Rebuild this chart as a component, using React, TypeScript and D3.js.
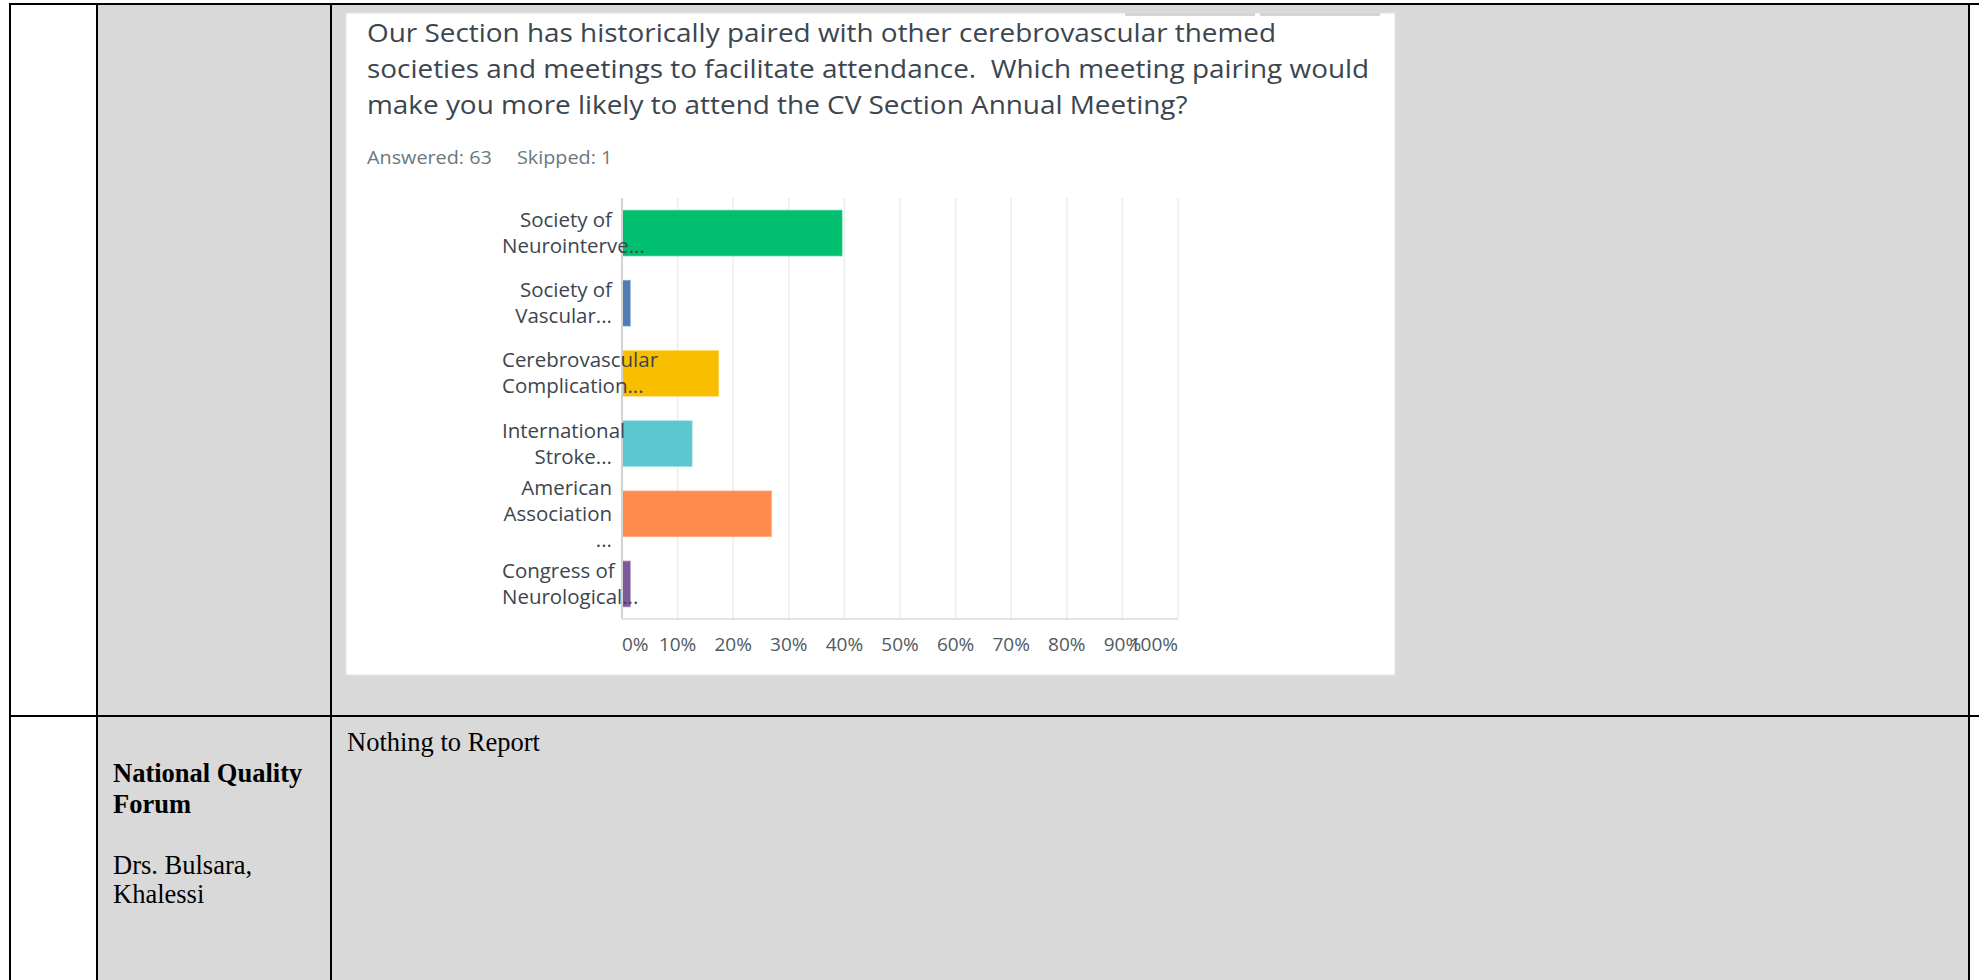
import React, { useEffect, useRef } from 'react';
import * as d3 from 'd3';

// survey answers, label text is already cut like in the survey export
const answerLines: string[][] = [
  ['Society of', 'Neurointerve...'],
  ['Society of', 'Vascular...'],
  ['Cerebrovascular', 'Complication...'],
  ['International', 'Stroke...'],
  ['American', 'Association', '...'],
  ['Congress of', 'Neurological...'],
];
const answerPct = [39.68, 1.59, 17.46, 12.7, 26.98, 1.59];
const barColors = ['#00bf6f', '#507cb6', '#f9be00', '#5bc8cf', '#ff8b4f', '#7d5a9a'];
const xTicks = [0, 10, 20, 30, 40, 50, 60, 70, 80, 90, 100];

const titleLines = [
  'Our Section has historically paired with other cerebrovascular themed',
  'societies and meetings to facilitate attendance.  Which meeting pairing would',
  'make you more likely to attend the CV Section Annual Meeting?',
];
const answeredLabel = 'Answered: 63';
const skippedLabel = 'Skipped: 1';

const sideHeading = ['National Quality', 'Forum'];
const sideNames = ['Drs. Bulsara,', 'Khalessi'];
const cellNote = 'Nothing to Report';

const W = 1979;
const H = 980;
const SANS = '"Open Sans", "Noto Sans", sans-serif';
const SERIF = '"Liberation Serif", "Times New Roman", serif';

// the pasted screenshot is a bit wider than tall, so its text gets stretched sideways
const stretch = (sel: d3.Selection<SVGTextElement, any, any, any>, ax: number, sx: number) =>
  sel.attr('transform', `translate(${ax * (1 - sx)},0) scale(${sx},1)`);

const App: React.FC = () => {
  const ref = useRef<SVGSVGElement>(null);

  useEffect(() => {
    const svg = d3.select(ref.current);
    svg.selectAll('*').remove();

    // ---- word table behind the screenshot ----
    svg.append('rect').attr('width', W).attr('height', H).attr('fill', '#fff');
    svg.append('rect')
      .attr('x', 97).attr('y', 4).attr('width', 1969 - 97).attr('height', H)
      .attr('fill', '#d9d9d9');

    const border = (x1: number, y1: number, x2: number, y2: number) =>
      svg.append('line')
        .attr('x1', x1).attr('y1', y1).attr('x2', x2).attr('y2', y2)
        .attr('stroke', '#000').attr('stroke-width', 2);
    border(9, 4, W, 4);
    border(9, 716, W, 716);
    border(10, 4, 10, H);
    border(97, 4, 97, H);
    border(331, 4, 331, H);
    border(1969, 4, 1969, H);

    svg.append('text')
      .attr('x', 113).attr('y', 782)
      .attr('font-family', SERIF).attr('font-size', 26.5).attr('font-weight', 'bold')
      .selectAll('tspan').data(sideHeading).join('tspan')
      .attr('x', 113).attr('dy', (_, i) => (i === 0 ? 0 : 31))
      .text(d => d);
    svg.append('text')
      .attr('x', 113).attr('y', 874)
      .attr('font-family', SERIF).attr('font-size', 26.5)
      .selectAll('tspan').data(sideNames).join('tspan')
      .attr('x', 113).attr('dy', (_, i) => (i === 0 ? 0 : 29))
      .text(d => d);
    svg.append('text')
      .attr('x', 347).attr('y', 751)
      .attr('font-family', SERIF).attr('font-size', 26.5)
      .text(cellNote);

    // ---- survey card ----
    svg.append('rect')
      .attr('x', 346).attr('y', 13).attr('width', 1395 - 346).attr('height', 675 - 13)
      .attr('fill', '#fff').attr('stroke', '#e4e4e4').attr('stroke-width', 1);
    svg.append('rect').attr('x', 1125).attr('y', 13).attr('width', 130).attr('height', 3).attr('fill', '#d3d6d8');
    svg.append('rect').attr('x', 1260).attr('y', 13).attr('width', 120).attr('height', 3).attr('fill', '#d3d6d8');

    svg.append('g')
      .selectAll('text').data(titleLines).join('text')
      .attr('x', 367).attr('y', (_, i) => 42 + i * 36)
      .attr('font-family', SANS).attr('font-size', 25.5).attr('fill', '#3b4650')
      .style('white-space', 'pre')
      .text(d => d)
      .call(s => stretch(s, 367, 1.095));

    svg.append('text')
      .attr('x', 367).attr('y', 164)
      .attr('font-family', SANS).attr('font-size', 18).attr('fill', '#6b787f')
      .text(answeredLabel)
      .call(s => stretch(s, 367, 1.1));
    svg.append('text')
      .attr('x', 517).attr('y', 164)
      .attr('font-family', SANS).attr('font-size', 18).attr('fill', '#6b787f')
      .text(skippedLabel)
      .call(s => stretch(s, 517, 1.1));

    // ---- bar chart ----
    const x = d3.scaleLinear().domain([0, 100]).range([622, 1178]);
    const y = d3.scaleBand<number>()
      .domain(d3.range(answerPct.length))
      .range([198, 619])
      .paddingInner(0.335)
      .paddingOuter(0.1675);

    const chart = svg.append('g');

    chart.selectAll('line.grid')
      .data(xTicks.slice(1))
      .join('line')
      .attr('class', 'grid')
      .attr('x1', d => x(d)).attr('x2', d => x(d))
      .attr('y1', 198).attr('y2', 619)
      .attr('stroke', '#ececec').attr('stroke-width', 1.5);

    chart.append('line')
      .attr('x1', x(0)).attr('x2', x(100)).attr('y1', 619).attr('y2', 619)
      .attr('stroke', '#d9d9d9').attr('stroke-width', 1.5);

    chart.selectAll('rect.bar')
      .data(answerPct)
      .join('rect')
      .attr('class', 'bar')
      .attr('x', x(0))
      .attr('y', (_, i) => y(i)!)
      .attr('width', d => x(d) - x(0))
      .attr('height', y.bandwidth())
      .attr('fill', (_, i) => barColors[i])
      .attr('stroke', 'rgba(255,255,255,0.45)')
      .attr('stroke-width', 1.5);

    chart.append('line')
      .attr('x1', x(0)).attr('x2', x(0)).attr('y1', 198).attr('y2', 619)
      .attr('stroke', '#d3d3d3').attr('stroke-width', 2);

    // category labels: right aligned in a box, lines that do not fit start at the box left
    const boxLeft = 502;
    const boxRight = 612;
    const lineH = 26;
    const labelSx = 1.05;
    answerLines.forEach((lines, i) => {
      const cy = y(i)! + y.bandwidth() / 2;
      const first = cy - ((lines.length - 1) * lineH) / 2 + 7;
      lines.forEach((ln, j) => {
        const t = chart.append('text')
          .attr('y', first + j * lineH)
          .attr('font-family', SANS).attr('font-size', 19.5).attr('fill', '#3b4650')
          .text(ln);
        const w = (t.node() as SVGTextElement).getComputedTextLength() * labelSx;
        if (w > boxRight - boxLeft) {
          t.attr('x', boxLeft).attr('text-anchor', 'start');
          stretch(t, boxLeft, labelSx);
        } else {
          t.attr('x', boxRight).attr('text-anchor', 'end');
          stretch(t, boxRight, labelSx);
        }
      });
    });

    // tick labels, first and last kept inside the plot
    chart.selectAll('text.tick')
      .data(xTicks)
      .join('text')
      .attr('class', 'tick')
      .attr('x', d => x(d))
      .attr('y', 651)
      .attr('text-anchor', d => (d === 0 ? 'start' : d === 100 ? 'end' : 'middle'))
      .attr('font-family', SANS).attr('font-size', 19).attr('fill', '#4f5a62')
      .text(d => `${d}%`);
  }, []);

  return (
    <svg
      ref={ref}
      width={W}
      height={H}
      style={{ position: 'fixed', left: 0, top: 0, display: 'block' }}
    />
  );
};

export default App;
